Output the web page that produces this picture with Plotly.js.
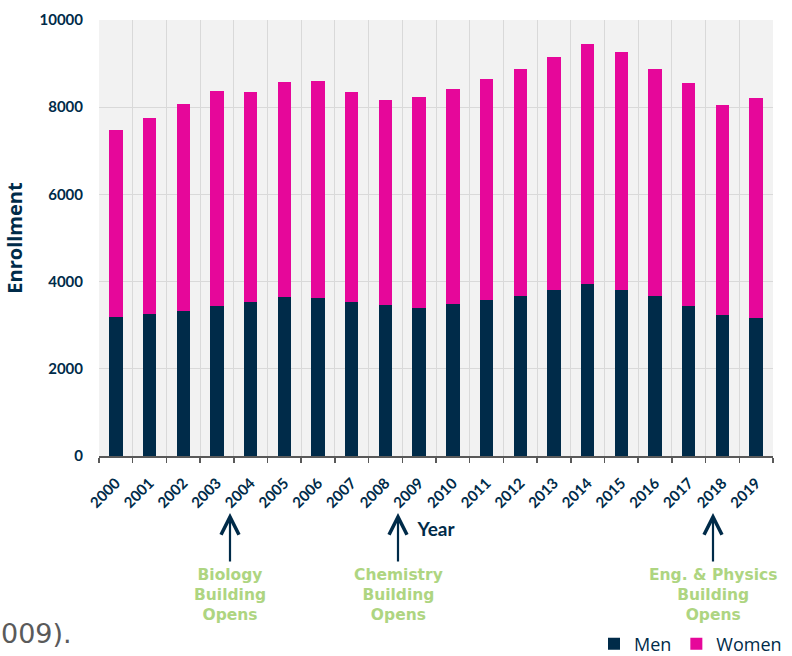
<!DOCTYPE html>
<html>
<head>
<meta charset="utf-8">
<script src="https://cdn.plot.ly/plotly-3.0.1.min.js"></script>
<style>html,body{margin:0;padding:0;background:#fff;}#chart{width:792px;height:656px;}</style>
</head>
<body>
<div id="chart"></div>
<script>
const years = ['2000','2001','2002','2003','2004','2005','2006','2007','2008','2009',
               '2010','2011','2012','2013','2014','2015','2016','2017','2018','2019'];
const men   = [3180,3260,3320,3430,3530,3655,3615,3530,3460,3390,
               3490,3580,3670,3800,3940,3810,3680,3430,3225,3170];
const total = [7480,7755,8076,8373,8357,8572,8595,8350,8167,8236,
               8412,8656,8885,9160,9443,9260,8870,8550,8046,8206];
const women = total.map((t, i) => t - men[i]);

const navy = '#002b49';
const pink = '#e6079a';
const green = '#aed581';

// milestone labels and pixel x of the arrow under the tick labels
const milestones = [
  {text: 'Biology<br>Building<br>Opens', px: 230},
  {text: 'Chemistry<br>Building<br>Opens', px: 398},
  {text: 'Eng. & Physics<br>Building<br>Opens', px: 713}
];

const L = 99, R = 773, T = 20, B = 456;
const W = R - L, H = B - T;
const px2x = p => (p - L) / W;
const py2y = p => (B - p) / H;

const annotations = [];
milestones.forEach(m => {
  annotations.push({
    xref: 'paper', yref: 'paper', x: px2x(m.px), y: py2y(513),
    ax: 0, ay: 50, text: '', showarrow: true,
    arrowhead: 5, arrowsize: 1.6, arrowwidth: 2.2, arrowcolor: navy, standoff: 0
  });
  annotations.push({
    xref: 'paper', yref: 'paper', x: px2x(m.px), y: py2y(595),
    xanchor: 'center', yanchor: 'middle', showarrow: false, text: m.text,
    font: {family: 'DejaVu Sans', size: 15.5, color: green, weight: 700}
  });
});
annotations.push({
  xref: 'paper', yref: 'paper', x: px2x(-1), y: py2y(633),
  xanchor: 'left', yanchor: 'middle', showarrow: false, text: '009).',
  font: {family: 'DejaVu Sans', size: 27, color: '#5a5a5a', weight: 400}
});

const data = [
  {type: 'bar', name: 'Men', x: years, y: men, marker: {color: navy, line: {width: 0}}},
  {type: 'bar', name: 'Women', x: years, y: women, marker: {color: pink, line: {width: 0}}}
];

const layout = {
  width: 792, height: 656,
  margin: {l: L, r: 792 - R, t: T, b: 656 - B, autoexpand: false},
  paper_bgcolor: '#ffffff', plot_bgcolor: '#f2f2f2',
  barmode: 'stack', bargap: 0.6,
  showlegend: true,
  legend: {orientation: 'h', traceorder: 'normal', xref: 'paper', yref: 'paper',
           x: px2x(787), xanchor: 'right', y: py2y(644), yanchor: 'middle',
           font: {family: 'Open Sans', size: 18, color: navy},
           itemwidth: 30, bgcolor: 'rgba(0,0,0,0)'},
  xaxis: {
    type: 'category', tickson: 'boundaries', ticks: 'outside', ticklen: 5, tickwidth: 1.5,
    tickcolor: '#595959', showline: true, linecolor: '#595959', linewidth: 1.5,
    showgrid: true, gridcolor: '#d9d9d9', gridwidth: 1,
    tickangle: -45, ticklabelstandoff: 11,
    tickfont: {family: 'Lato', size: 15, color: navy, weight: 700},
    title: {text: 'Year', font: {family: 'Lato', size: 19, color: navy, weight: 700}, standoff: 12},
    automargin: false
  },
  yaxis: {
    range: [0, 10000], dtick: 2000, tickformat: 'd', showgrid: true, gridcolor: '#d9d9d9', gridwidth: 1,
    zeroline: false, showline: false, ticks: '', ticklabelstandoff: 15,
    tickfont: {family: 'Lato', size: 15, color: navy, weight: 700},
    title: {text: 'Enrollment', font: {family: 'Open Sans', size: 20, color: navy, weight: 700}, standoff: 11},
    automargin: false
  },
  annotations: annotations
};

Plotly.newPlot('chart', data, layout, {displayModeBar: false, staticPlot: true});
</script>
</body>
</html>
